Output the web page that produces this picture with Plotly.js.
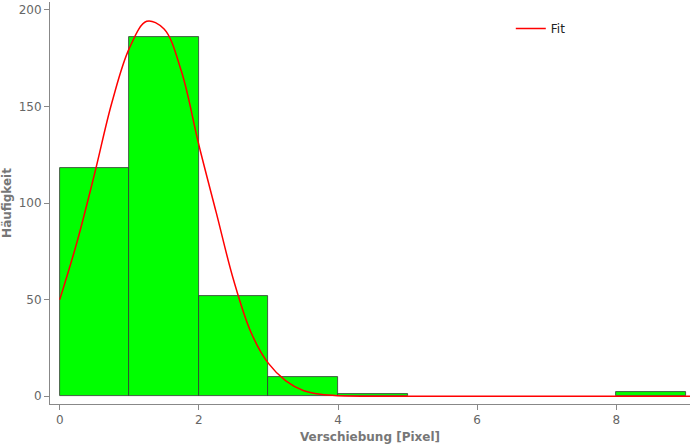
<!DOCTYPE html>
<html><head><meta charset="utf-8">
<script src="https://cdn.plot.ly/plotly-3.0.1.min.js"></script>
<style>body{margin:0}#c{width:700px;height:444px}</style>
</head><body><div id="c"></div>
<script>
// histogram bins (left edge), counts
var binStart = [0, 1, 2, 3, 4, 8];
var binCount = [118, 186, 52, 10, 1, 2];
// fit curve
var fitX = [0, 0.25, 0.5, 0.75, 1.0, 1.25, 1.5, 1.75, 2.0, 2.25, 2.5, 2.75, 3.0, 3.25, 3.5, 3.75, 4.0, 5.0, 9.2];
var fitY = [50, 80, 115, 152, 180, 194, 190, 168, 130, 95, 60, 33, 17, 8, 3, 1, 0.3, 0, 0];

var bars = {
  x: binStart.map(function (b) { return b + 0.5; }),
  y: binCount,
  type: 'bar',
  width: 1,
  marker: {color: '#00ff00', line: {color: '#333', width: 0.8}},
  showlegend: false,
  hoverinfo: 'x+y'
};
var fit = {
  x: fitX, y: fitY, mode: 'lines', name: 'Fit',
  line: {color: '#ff0000', width: 1.5, shape: 'spline'}
};
var gray = '#888';
var layout = {
  width: 700, height: 444,
  margin: {l: 50, r: 10, t: 2, b: 40},
  paper_bgcolor: 'white', plot_bgcolor: 'white',
  font: {family: 'DejaVu Sans', size: 12, color: '#666'},
  bargap: 0,
  xaxis: {
    range: [-0.14, 9.06], showgrid: false, zeroline: false,
    showline: true, linecolor: gray, ticks: 'outside', tickcolor: gray,
    tickvals: [0, 2, 4, 6, 8], ticklen: 5,
    title: {text: '<b>Verschiebung [Pixel]</b>', font: {size: 12, color: '#777'}, standoff: 6}
  },
  yaxis: {
    range: [-4, 204], showgrid: false, zeroline: false,
    showline: true, linecolor: gray, ticks: 'outside', tickcolor: gray,
    tickvals: [0, 50, 100, 150, 200], ticklen: 5,
    title: {text: '<b>Häufigkeit</b>', font: {size: 12, color: '#777'}, standoff: 4}
  },
  legend: {x: 0.72, y: 0.97, bgcolor: 'rgba(0,0,0,0)', font: {size: 12, color: '#222'}}
};
Plotly.newPlot('c', [bars, fit], layout, {displayModeBar: false});
</script>
</body></html>
